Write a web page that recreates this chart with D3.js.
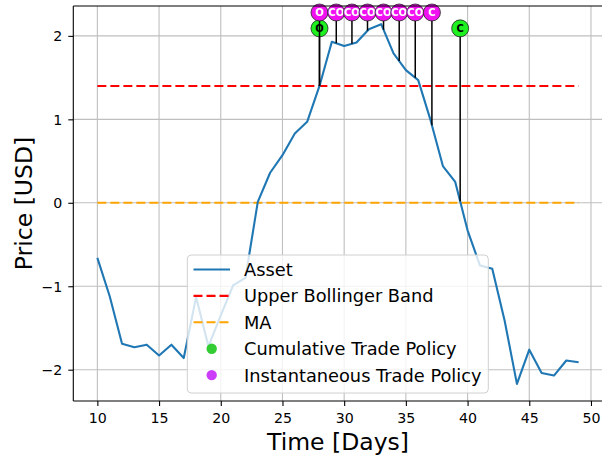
<!DOCTYPE html>
<html><head><meta charset="utf-8">
<script src="https://cdn.jsdelivr.net/npm/d3@7"></script>
<style>body{margin:0;background:#fff;}svg{display:block;font-family:"DejaVu Sans",sans-serif;}</style>
</head><body><svg id="c" width="602" height="455"></svg>
<script>
const days = [10,11,12,13,14,15,16,17,18,19,20,21,22,23,24,25,26,27,28,29,30,31,32,33,34,35,36,37,38,39,40,41,42,43,44,45,46,47,48,49];
const asset = [-0.66,-1.12,-1.69,-1.73,-1.70,-1.83,-1.70,-1.86,-1.13,-1.72,-1.35,-0.99,-0.90,0.01,0.36,0.57,0.83,0.97,1.40,1.93,1.88,1.92,2.08,2.14,1.79,1.59,1.47,0.99,0.44,0.25,-0.33,-0.75,-0.79,-1.41,-2.17,-1.76,-2.04,-2.07,-1.89,-1.91];
const upperBand = 1.40;
const maValue = 0.0;
const cumDays = [28, 39.4];
const cumLabels = ["O", "C"];
const cumLevel = 2.09;
const instDays = [28, 29.36, 30.63, 31.89, 33.19, 34.46, 35.76, 37.11];
const instLabels = ["O","CO","CO","CO","CO","CO","CO","C"];
const instLevel = 2.28;
const xTicks = [10,15,20,25,30,35,40,45,50];
const yTicks = [-2,-1,0,1,2];
const legendLabels = ["Asset","Upper Bollinger Band","MA","Cumulative Trade Policy","Instantaneous Trade Policy"];

const svg = d3.select("#c");
const L = 73.3, R = 602.7, T = 6, B = 401;
const x = d3.scaleLinear().domain([8.05, 50.95]).range([L, R]);
const y = d3.scaleLinear().domain([-2.375, 2.358]).range([B, T]);
const interp = d => {
  const i = Math.min(Math.max(d3.bisectRight(days, d) - 1, 0), days.length - 2);
  const t = (d - days[i]) / (days[i+1] - days[i]);
  return asset[i] + t * (asset[i+1] - asset[i]);
};

// grid
const grid = svg.append("g");
grid.selectAll(".gx").data(xTicks).join("line")
  .attr("x1", d => x(d)).attr("x2", d => x(d)).attr("y1", T).attr("y2", B)
  .attr("stroke", "#bfbfbf").attr("stroke-width", 1.1);
grid.selectAll(".gy").data(yTicks).join("line")
  .attr("x1", L).attr("x2", R).attr("y1", d => y(d)).attr("y2", d => y(d))
  .attr("stroke", "#bfbfbf").attr("stroke-width", 1.1);

// axes
const xAxis = d3.axisBottom(x).tickValues(xTicks).tickSize(5).tickPadding(4).tickFormat(d3.format("d"));
const gx = svg.append("g").attr("transform", `translate(0,${B})`).call(xAxis);
const yAxis = d3.axisLeft(y).tickValues(yTicks).tickSize(5).tickPadding(4).tickFormat(d3.format("d"));
const gy = svg.append("g").attr("transform", `translate(${L},0)`).call(yAxis);
[gx, gy].forEach(g => {
  g.select(".domain").remove();
  g.selectAll("line").attr("stroke", "#000").attr("stroke-width", 1.1);
  g.selectAll("text").attr("font-size", 14.2).attr("fill", "#000").attr("font-family", "DejaVu Sans");
});
gx.selectAll("text").attr("dy", null).attr("y", 22);
gy.selectAll("text").attr("dy", "0.35em").attr("x", -11);

// lines
svg.append("line").attr("x1", x(days[0])).attr("x2", x(days[days.length-1]))
  .attr("y1", y(upperBand)).attr("y2", y(upperBand))
  .attr("stroke", "red").attr("stroke-width", 2.1).attr("stroke-dasharray", "9,4");
svg.append("line").attr("x1", x(days[0])).attr("x2", x(days[days.length-1]))
  .attr("y1", y(maValue)).attr("y2", y(maValue))
  .attr("stroke", "orange").attr("stroke-width", 2.1).attr("stroke-dasharray", "9,4");
svg.append("path").datum(days.map((d,i)=>[d, asset[i]]))
  .attr("d", d3.line().x(d=>x(d[0])).y(d=>y(d[1])))
  .attr("fill","none").attr("stroke","#1f77b4").attr("stroke-width",2.1).attr("stroke-linejoin","round");

// markers
const drawMarkers = (ds, labels, level, fill, txt) => {
  const g = svg.append("g");
  ds.forEach((d, i) => {
    g.append("line").attr("x1", x(d)).attr("x2", x(d)).attr("y1", y(level)).attr("y2", y(interp(d)))
      .attr("stroke", "#000").attr("stroke-width", 1.5);
  });
  ds.forEach((d, i) => {
    g.append("circle").attr("cx", x(d)).attr("cy", y(level)).attr("r", 8.5)
      .attr("fill", fill).attr("stroke", "#222").attr("stroke-width", 0.8);
    g.append("text").attr("x", x(d)).attr("y", y(level)).attr("dy", "0.36em")
      .attr("text-anchor", "middle").attr("font-size", 10).attr("font-weight", "bold")
      .attr("fill", txt).text(labels[i]);
  });
};
drawMarkers(cumDays, cumLabels, cumLevel, "#1ff01f", "#000");
drawMarkers(instDays, instLabels, instLevel, "#f010f0", "#fff");

// spines
svg.append("line").attr("x1", L).attr("x2", L).attr("y1", T).attr("y2", B).attr("stroke","#000").attr("stroke-width",1.1);
svg.append("line").attr("x1", L).attr("x2", R).attr("y1", B).attr("y2", B).attr("stroke","#000").attr("stroke-width",1.1);
svg.append("line").attr("x1", L).attr("x2", R).attr("y1", T).attr("y2", T).attr("stroke","#000").attr("stroke-width",1.1);

// axis labels
svg.append("text").attr("x", (L + R) / 2).attr("y", 450).attr("text-anchor", "middle")
  .attr("font-size", 23.5).attr("fill", "#000").text("Time [Days]");
svg.append("text").attr("transform", `translate(32,${(T + B) / 2}) rotate(-90)`).attr("text-anchor", "middle")
  .attr("font-size", 23.5).attr("fill", "#000").text("Price [USD]");

// legend
const lg = svg.append("g");
lg.append("rect").attr("x", 187.3).attr("y", 255).attr("width", 301).attr("height", 138).attr("rx", 4)
  .attr("fill", "#fff").attr("fill-opacity", 0.8).attr("stroke", "#d0d0d0").attr("stroke-width", 1);
const rowY = i => 269.5 + i * 26.4;
legendLabels.forEach((t, i) => {
  const yy = rowY(i);
  if (i === 0) lg.append("line").attr("x1",193.5).attr("x2",230).attr("y1",yy).attr("y2",yy).attr("stroke","#1f77b4").attr("stroke-width",2.1);
  if (i === 1) lg.append("line").attr("x1",193.5).attr("x2",230).attr("y1",yy).attr("y2",yy).attr("stroke","red").attr("stroke-width",2.1).attr("stroke-dasharray","9,4");
  if (i === 2) lg.append("line").attr("x1",193.5).attr("x2",230).attr("y1",yy).attr("y2",yy).attr("stroke","orange").attr("stroke-width",2.1).attr("stroke-dasharray","9,4");
  if (i === 3) lg.append("circle").attr("cx",211.7).attr("cy",yy).attr("r",5.2).attr("fill","#33cc33");
  if (i === 4) lg.append("circle").attr("cx",211.7).attr("cy",yy).attr("r",5.2).attr("fill","#cc3dfa");
  lg.append("text").attr("x", 244).attr("y", yy).attr("dy", "0.36em").attr("font-size", 17.8).attr("fill", "#000").text(t);
});
</script></body></html>
